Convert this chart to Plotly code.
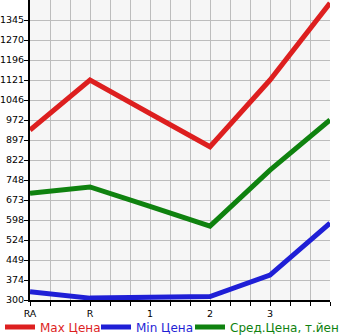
import plotly.graph_objects as go

categories = ["RA", "R", "1", "2", "3", ""]
max_price = [934, 1121, 996, 872, 1121, 1408]
min_price = [331, 307, 310, 313, 393, 587]
avg_price = [698, 722, 649, 576, 785, 972]
y_ticks = [300, 374, 449, 524, 598, 673, 748, 822, 897, 972, 1046, 1121, 1196, 1270, 1345]

x = list(range(len(categories)))
step = (1345 - 300) / 14

fig = go.Figure()
fig.add_trace(go.Scatter(x=x, y=max_price, mode="lines", name="Max Цена", legend="legend",
                         line=dict(color="#dd1f1f", width=5), cliponaxis=False))
fig.add_trace(go.Scatter(x=x, y=min_price, mode="lines", name="Min Цена", legend="legend2",
                         line=dict(color="#1f1fd6", width=5), cliponaxis=False))
fig.add_trace(go.Scatter(x=x, y=avg_price, mode="lines", name="Сред.Цена, т.йен", legend="legend3",
                         line=dict(color="#0f820f", width=5), cliponaxis=False))

xtv = [i / 3 for i in range(16)]
xtt = [categories[i // 3] if i % 3 == 0 and i // 3 < 5 else "" for i in range(16)]


def leg(xpx, color):
    return dict(orientation="h", xref="container", yref="container",
                x=xpx / 345, xanchor="left", y=0.067, yanchor="top",
                font=dict(size=12, color=color), itemwidth=30,
                bgcolor="rgba(0,0,0,0)")


fig.update_layout(
    width=345, height=335,
    margin=dict(l=30, r=15, t=0, b=35, autoexpand=False),
    paper_bgcolor="white", plot_bgcolor="#f6f6f6",
    font=dict(family="DejaVu Sans", size=9.5, color="black"),
    showlegend=True,
    legend=leg(0, "#dd1f1f"),
    legend2=leg(96, "#1f1fd6"),
    legend3=leg(190, "#0f820f"),
    xaxis=dict(range=[0, 5], tickmode="array", tickvals=xtv, ticktext=xtt,
               showgrid=True, gridcolor="#bdbdbd", gridwidth=1,
               showline=True, linecolor="black", linewidth=2,
               ticks="outside", ticklen=4, tickcolor="black", zeroline=False,
               fixedrange=True),
    yaxis=dict(range=[300, 300 + 15 * step], tickmode="array", tickvals=[300 + i * step for i in range(15)],
               ticktext=[str(v) for v in y_ticks],
               showgrid=True, gridcolor="#bdbdbd", gridwidth=1,
               showline=True, linecolor="black", linewidth=2,
               ticks="outside", ticklen=4, tickcolor="black", zeroline=False,
               ticklabelstandoff=-2, fixedrange=True),
)

fig.write_html("out.html")
